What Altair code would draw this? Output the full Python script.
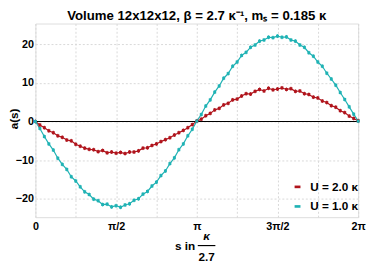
import math
import altair as alt
import pandas as pd

n = 73
s_vals = [i * math.pi / 36 for i in range(n)]

red_vals = [0, -0.9, -1.6, -2.4, -2.9, -3.7, -4.1, -4.8, -5.0, -5.9,
            -6.4, -6.9, -7.2, -7.3, -7.8, -7.5, -8.1, -7.9, -8.2, -8.0,
            -8.3, -7.9, -7.9, -7.6, -6.9, -6.8, -6.2, -5.8, -5.2, -4.7,
            -4.2, -3.5, -2.9, -2.3, -1.6, -0.8, 0.1,
            0.6, 1.5, 2.1, 3.0, 3.4, 4.3, 4.7, 5.6, 5.8, 6.6,
            7.2, 7.1, 7.8, 8.3, 7.9, 8.6, 8.2, 8.4, 8.7, 8.3,
            8.5, 7.8, 7.9, 7.2, 7.0, 6.3, 6.1, 5.3, 4.9, 4.1,
            3.7, 2.8, 2.3, 1.4, 0.8, 0.2]
cyan_vals = [0, -1.8, -3.9, -5.8, -7.4, -9.5, -11.1, -12.4, -14.3, -15.4,
             -16.9, -18.2, -18.9, -20.1, -20.5, -21.5, -21.4, -22.1, -21.8, -22.2,
             -21.6, -21.3, -20.4, -20.0, -18.8, -18.1, -16.7, -15.7, -14.0, -12.8,
             -10.9, -9.4, -7.3, -5.8, -3.7, -2.0, 0.1,
             1.8, 4.0, 5.6, 7.6, 9.2, 11.2, 12.4, 14.3, 15.4, 17.1,
             17.9, 19.2, 19.8, 20.8, 21.1, 21.8, 21.7, 22.1, 21.8, 21.9,
             21.1, 20.8, 19.8, 19.2, 17.8, 16.9, 15.4, 14.3, 12.5, 11.0,
             9.4, 7.5, 5.7, 3.8, 1.9, 0.1]
red_err = 0.5
cyan_err = 0.5

series_labels = ["U = 2.0 κ", "U = 1.0 κ"]
series_colors = ["#B0141C", "#1FB2B4"]
x_tick_labels = ["0", "", "π/2", "", "π", "", "3π/2", "", "2π"]
y_ticks = [-20, -10, 0, 10, 20]

df = pd.DataFrame({
    "s": s_vals + s_vals,
    "a": red_vals + cyan_vals,
    "err": [red_err] * n + [cyan_err] * n,
    "U": [series_labels[0]] * n + [series_labels[1]] * n,
})
df["lo"] = df["a"] - df["err"]
df["hi"] = df["a"] + df["err"]

FONT = "Liberation Sans"
PH = 198

xenc = alt.X("s:Q",
             scale=alt.Scale(domain=[0, 2 * math.pi], nice=False, zero=False),
             axis=alt.Axis(values=[k * math.pi / 4 for k in range(9)],
                           labelExpr="['0','','π/2','','π','','3π/2','','2π'][round(datum.value/(PI/4))]",
                           title=None, ticks=False, domain=False,
                           grid=True, gridColor="#d8d8d8", gridDash=[2, 2],
                           labelFont=FONT, labelFontSize=11, labelFontWeight="bold",
                           labelColor="#000", labelPadding=4, labelFlush=False))
yenc = alt.Y("a:Q",
             scale=alt.Scale(domain=[-24.77, 25.36], nice=False, zero=False),
             axis=alt.Axis(values=y_ticks, title="a(s)", ticks=False, domain=False,
                           grid=True, gridColor="#d8d8d8", gridDash=[2, 2],
                           labelFont=FONT, labelFontSize=11, labelFontWeight="bold",
                           labelColor="#000", labelPadding=2,
                           titleFont=FONT, titleFontSize=12, titleFontWeight="bold",
                           titleColor="#000", titleAngle=-90, titleBaseline="middle",
                           titleAlign="center", titleX=-22, titleY=97))

color_enc = alt.Color("U:N", scale=alt.Scale(domain=series_labels, range=series_colors),
                      legend=alt.Legend(title=None, orient="none", legendX=262, legendY=161,
                                        symbolType="M-1,-0.45L1,-0.45L1,0.45L-1,0.45Z",
                                        symbolSize=36, symbolStrokeWidth=0,
                                        labelFont=FONT, labelFontSize=12, labelFontWeight="bold",
                                        labelColor="#000", rowPadding=8, labelOffset=7))

base = alt.Chart(df)
lines = base.mark_line(strokeWidth=1.2).encode(x=xenc, y=yenc, color=color_enc, detail="U:N")
errs = base.mark_rule(strokeWidth=1).encode(x="s:Q", y="lo:Q", y2="hi:Q", color=color_enc)
pts = base.mark_square(size=9, opacity=1).encode(x="s:Q", y="a:Q", color=color_enc)

zero = alt.Chart(pd.DataFrame({"z": [0]})).mark_rule(color="#000", strokeWidth=1.2).encode(y="z:Q")

lab = pd.DataFrame({"t": ["s in"]})
t1 = alt.Chart(lab).mark_text(font=FONT, fontSize=12, fontWeight="bold", color="#000").encode(
    x=alt.value(153), y=alt.value(PH + 30), text=alt.value("s in"))
t2 = alt.Chart(lab).mark_text(font=FONT, fontSize=12, fontWeight="bold", fontStyle="italic", color="#000").encode(
    x=alt.value(175), y=alt.value(PH + 19), text=alt.value("κ"))
t3 = alt.Chart(lab).mark_text(font=FONT, fontSize=12, fontWeight="bold", color="#000").encode(
    x=alt.value(175), y=alt.value(PH + 41), text=alt.value("2.7"))
fr = alt.Chart(lab).mark_rule(color="#000", strokeWidth=1.2).encode(
    x=alt.value(166), x2=alt.value(184), y=alt.value(PH + 29))

chart = alt.layer(zero, lines, errs, pts, t1, t2, t3, fr).properties(
    width=330, height=PH,
    padding={"left": 28, "top": 13, "right": 8, "bottom": 46},
    autosize=alt.AutoSizeParams(type="none"),
    title=alt.TitleParams("Volume 12x12x12, β = 2.7 κ⁻¹, mₛ = 0.185 κ",
                          font=FONT, fontSize=13.5, fontWeight="bold", color="#000",
                          offset=1, anchor="middle"),
).configure_view(stroke="#444", strokeWidth=1).configure(background="white")

chart.save("out.html", embed_options={"renderer": "svg", "actions": False})
